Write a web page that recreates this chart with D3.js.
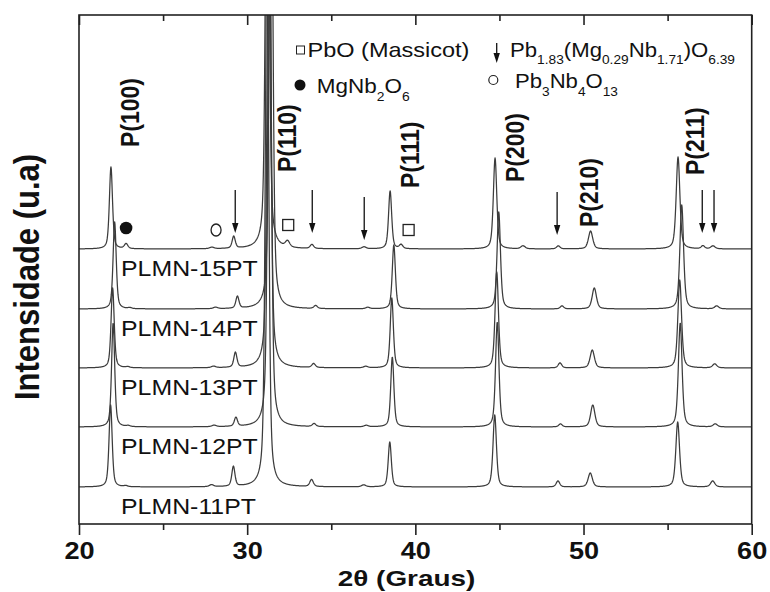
<!DOCTYPE html>
<html>
<head>
<meta charset="utf-8">
<script src="https://cdn.jsdelivr.net/npm/d3@7"></script>
<style>
  body { margin: 0; background: #fff; }
  svg { display: block; }
  text { font-family: "Liberation Sans", Arial, sans-serif; fill: #111; }
</style>
</head>
<body>
<div id="chart"></div>
<script>
// reflections seen in the patterns (2theta, degrees) and their fwhm
const peakPos   = [21.9, 22.8, 27.9, 29.2, 31.2, 32.4, 33.85, 36.95, 38.5, 39.15, 44.74, 46.4, 48.5, 50.42, 55.62, 57.1, 57.7]
const peakWidth = [0.22, 0.25, 0.3, 0.22, 0.24, 0.3, 0.25, 0.3, 0.22, 0.25, 0.24, 0.3, 0.25, 0.3, 0.26, 0.25, 0.3]

const samples = ["PLMN-15PT", "PLMN-14PT", "PLMN-13PT", "PLMN-12PT", "PLMN-11PT"]
const offsets = [275, 215, 156, 97, 37]          // stacking offset of each pattern (u.a)
const shifts  = [0, 0.22, 0.1, 0.13, -0.02]      // small 2theta shift of each pattern

// peak heights (u.a), one row per sample, same order as peakPos
const heights = [
  [82, 5, 1.5, 12, 560, 6, 4, 2, 58, 4, 91, 3, 3, 18, 92, 3, 3],
  [87, 1, 1.5, 12, 560, 0, 3, 1.5, 64, 0, 97, 0, 3, 21, 104, 0, 3],
  [80, 1, 1.5, 15, 560, 0, 4, 1.5, 70, 0, 96, 0, 5, 18, 88, 0, 4],
  [104, 1, 1.5, 9, 560, 0, 3, 1.5, 70, 0, 105, 0, 3, 22, 104, 0, 3],
  [82, 1, 2, 20, 560, 0, 7, 2, 45, 0, 72, 0, 6, 14, 65, 0, 6]
]

// perovskite reflections labelled in the figure
const hklText = ["P(100)", "P(110)", "P(111)", "P(200)", "P(210)", "P(211)"]
const hklAt   = [23.57, 32.92, 40.24, 46.49, 50.89, 57.14]
const hklBase = [377, 352, 336, 342, 297, 349]

// secondary phase markers above the top pattern
const arrowAt  = [29.29, 33.87, 36.96, 48.43, 57.06, 57.76]
const arrowTop = [334, 334, 327, 332, 334, 334]
const dotAt = 22.8, ringAt = 28.15
const squareAt = [32.44, 39.6]
const squareH  = [299, 294]

const xTicks = [20, 30, 40, 50, 60]
const xMinor = [25, 35, 45, 55]

const W = 770, H = 592
const m = {left: 79, right: 18.3, top: 15, bottom: 68}
const S = 1.13   // glyphs in the figure are a bit wider than normal

const svg = d3.select("#chart").append("svg")
  .attr("width", W).attr("height", H)

const x = d3.scaleLinear().domain([20, 60]).range([m.left, W - m.right])
const y = d3.scaleLinear().domain([0, 509]).range([H - m.bottom, m.top])

svg.append("clipPath").attr("id", "plotclip")
  .append("rect")
  .attr("x", m.left).attr("y", m.top)
  .attr("width", W - m.right - m.left).attr("height", H - m.bottom - m.top)

// pseudo-voigt line shape
function pv(t, c, w, h) {
  const u = (t - c) / (w / 2)
  return h * (0.5 / (1 + u * u) + 0.5 * Math.exp(-Math.LN2 * u * u))
}

const grid = d3.range(20, 60.0001, 0.02)
const line = d3.line().x(d => x(d[0])).y(d => y(d[1]))

const traces = samples.map((s, i) => grid.map(t => {
  let v = offsets[i]
  peakPos.forEach((p, k) => {
    if (heights[i][k] > 0) v += pv(t, p + shifts[i], peakWidth[k], heights[i][k])
  })
  return [t, v]
}))

svg.append("g").attr("clip-path", "url(#plotclip)")
  .selectAll("path")
  .data(traces)
  .join("path")
  .attr("d", line)
  .attr("fill", "none")
  .attr("stroke", "#3c3c3c")
  .attr("stroke-width", 1.25)
  .attr("stroke-linejoin", "round")

// sample names under each pattern
svg.append("g").selectAll("text")
  .data(samples)
  .join("text")
  .attr("transform", (d, i) => `translate(${x(22.5)},${y(offsets[i] - 27)}) scale(${S},1)`)
  .attr("font-size", 22)
  .text(d => d)

// frame
svg.append("rect")
  .attr("x", m.left).attr("y", m.top)
  .attr("width", W - m.right - m.left).attr("height", H - m.bottom - m.top)
  .attr("fill", "none").attr("stroke", "#222").attr("stroke-width", 1.6)

// ticks
const axB = svg.append("g").attr("transform", `translate(0,${H - m.bottom})`)
axB.call(d3.axisBottom(x).tickValues(xTicks).tickSize(11).tickPadding(7).tickFormat(d3.format("d")))
axB.append("g").call(d3.axisBottom(x).tickValues(xMinor).tickSize(6).tickFormat(""))
axB.selectAll(".domain").remove()
axB.selectAll("line").attr("stroke", "#222").attr("stroke-width", 1.6)
axB.selectAll(".tick text")
  .attr("font-size", 24).attr("font-weight", "bold").attr("fill", "#111")
  .attr("font-family", "Liberation Sans, Arial, sans-serif")
  .attr("transform", `scale(${S},1)`)

const axT = svg.append("g").attr("transform", `translate(0,${m.top})`)
axT.call(d3.axisTop(x).tickValues(xTicks).tickSize(-10).tickFormat(""))
axT.append("g").call(d3.axisTop(x).tickValues(xMinor).tickSize(-6).tickFormat(""))
axT.selectAll(".domain").remove()
axT.selectAll("line").attr("stroke", "#222").attr("stroke-width", 1.6)

// axis titles
svg.append("text")
  .attr("transform", `translate(406.5,585.5) scale(1.24,1)`)
  .attr("text-anchor", "middle").attr("font-size", 22.5).attr("font-weight", "bold")
  .text("2θ (Graus)")

svg.append("text")
  .attr("transform", `translate(39,277) scale(${S},1) rotate(-90)`)
  .attr("text-anchor", "middle").attr("font-size", 31).attr("font-weight", "bold")
  .text("Intensidade (u.a)")

// hkl labels
svg.append("g").selectAll("text")
  .data(hklText)
  .join("text")
  .attr("transform", (d, i) => `translate(${x(hklAt[i])},${y(hklBase[i])}) scale(${S},1) rotate(-90)`)
  .attr("font-size", 23).attr("font-weight", "bold")
  .text(d => d)

// arrows
function arrow(g, cx, y0, y1) {
  g.append("line").attr("x1", cx).attr("x2", cx).attr("y1", y0).attr("y2", y1 - 8)
    .attr("stroke", "#111").attr("stroke-width", 1.3)
  g.append("path").attr("d", `M${cx - 3.2},${y1 - 10}L${cx + 3.2},${y1 - 10}L${cx},${y1}Z`)
    .attr("fill", "#111")
}
const ann = svg.append("g")
arrowAt.forEach((a, i) => arrow(ann, x(a), y(arrowTop[i]), y(arrowTop[i] - 43)))

ann.append("circle").attr("cx", x(dotAt)).attr("cy", y(296)).attr("r", 6.3).attr("fill", "#111")
ann.append("ellipse").attr("cx", x(ringAt)).attr("cy", y(294)).attr("rx", 5).attr("ry", 6)
  .attr("fill", "none").attr("stroke", "#222").attr("stroke-width", 1.3)
squareAt.forEach((s, i) => {
  ann.append("rect").attr("x", x(s) - 5.5).attr("y", y(squareH[i]) - 5.5)
    .attr("width", 11).attr("height", 11)
    .attr("fill", "none").attr("stroke", "#222").attr("stroke-width", 1.3)
})

// legend, formulas with subscripts
const lg = svg.append("g")
function fitText(parts, x0, yb, target, size) {
  const t = lg.append("text").attr("font-size", size)
  let low = false
  parts.forEach(p => {
    const sub = !!p[1]
    const ts = t.append("tspan").text(p[0])
    if (sub) ts.attr("font-size", 13)
    if (sub && !low) ts.attr("dy", 7.5)
    if (!sub && low) ts.attr("dy", -7.5)
    low = sub
  })
  const w = t.node().getBBox().width
  t.attr("transform", `translate(${x0},${yb}) scale(${target / w},1)`)
}

lg.append("rect").attr("x", 296.5).attr("y", 46).attr("width", 8).attr("height", 8)
  .attr("fill", "none").attr("stroke", "#222").attr("stroke-width", 1)
fitText([["PbO (Massicot)"]], 307.5, 56.7, 162, 21)

arrow(lg, 496.7, 43, 63)
fitText([["Pb"], ["1.83", 1], ["(Mg"], ["0.29", 1], ["Nb"], ["1.71", 1], [")O"], ["6.39", 1]], 510, 56.7, 225, 21)

lg.append("circle").attr("cx", 300).attr("cy", 85).attr("r", 5.5).attr("fill", "#111")
fitText([["MgNb"], ["2", 1], ["O"], ["6", 1]], 316.7, 93.3, 93, 21)

lg.append("circle").attr("cx", 493.3).attr("cy", 80).attr("r", 4.5)
  .attr("fill", "none").attr("stroke", "#222").attr("stroke-width", 1.2)
fitText([["Pb"], ["3", 1], ["Nb"], ["4", 1], ["O"], ["13", 1]], 515, 88.3, 103, 21)
</script>
</body>
</html>
